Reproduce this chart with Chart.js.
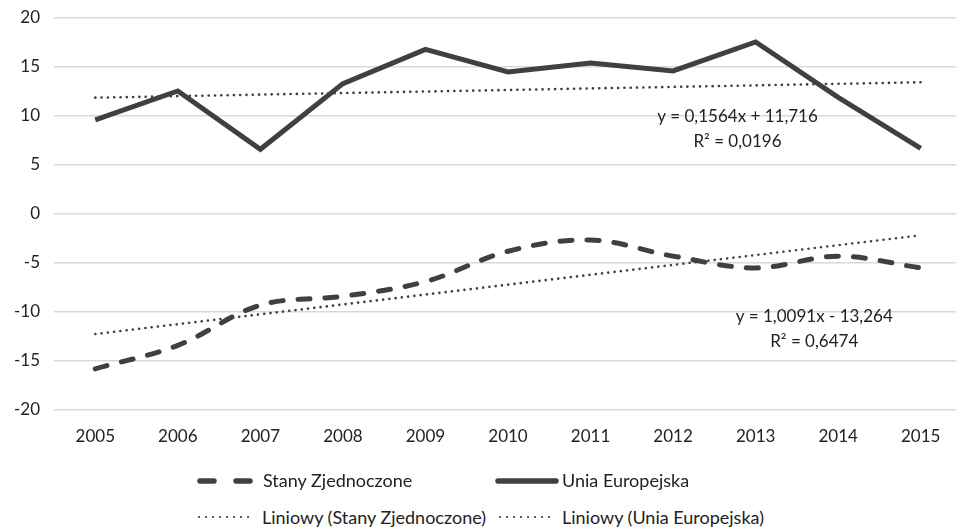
<!DOCTYPE html>
<html>
<head>
<meta charset="utf-8">
<script src="https://cdn.jsdelivr.net/npm/chart.js@4.4.1/dist/chart.umd.min.js"></script>
<style>
  html,body{margin:0;padding:0;background:#fff;overflow:hidden;width:956px;height:527px;}
  #wrap{position:relative;width:962px;height:527px;}
  #c{position:absolute;left:0;top:0;}
  .leg{position:absolute;font-family:Lato,"Open Sans",sans-serif;font-size:18px;color:#222;white-space:nowrap;line-height:22px;}
  .sw{position:absolute;}
</style>
</head>
<body>
<div id="wrap">
  <canvas id="c" width="962" height="476"></canvas>
  <svg class="sw" style="left:193px;top:474px" width="65" height="14"><line x1="7" y1="7" x2="58" y2="7" stroke="#404040" stroke-width="5.5" stroke-linecap="round" stroke-dasharray="14,22"/></svg>
  <div class="leg" style="left:263px;top:469px">Stany Zjednoczone</div>
  <svg class="sw" style="left:492px;top:474px" width="70" height="14"><line x1="6" y1="7" x2="64" y2="7" stroke="#404040" stroke-width="5.5" stroke-linecap="round"/></svg>
  <div class="leg" style="left:562px;top:469px">Unia Europejska</div>
  <svg class="sw" style="left:196px;top:510px" width="62" height="14"><line x1="3" y1="7" x2="59" y2="7" stroke="#404040" stroke-width="2.2" stroke-linecap="round" stroke-dasharray="0.1,6.9"/></svg>
  <div class="leg" style="left:262px;top:506px">Liniowy (Stany Zjednoczone)</div>
  <svg class="sw" style="left:497px;top:510px" width="62" height="14"><line x1="3" y1="7" x2="59" y2="7" stroke="#404040" stroke-width="2.2" stroke-linecap="round" stroke-dasharray="0.1,6.9"/></svg>
  <div class="leg" style="left:562px;top:506px">Liniowy (Unia Europejska)</div>
</div>
<script>
const years = ["2005","2006","2007","2008","2009","2010","2011","2012","2013","2014","2015"];
const usValues = [-15.8,-13.4,-9.3,-8.4,-6.9,-3.8,-2.65,-4.3,-5.5,-4.3,-5.5];
const euValues = [9.6,12.55,6.6,13.3,16.8,14.5,15.4,14.6,17.55,11.9,6.7];
// trend line endpoints (first and last year)
const usTrend = [-12.25,null,null,null,null,null,null,null,null,null,-2.17];
const euTrend = [11.87,null,null,null,null,null,null,null,null,null,13.44];
const yTicks = [20,15,10,5,0,-5,-10,-15,-20];
const labelsText = [
  {lines:["y = 0,1564x + 11,716","R² = 0,0196"], x:7.78, y:[9.9,7.35]},
  {lines:["y = 1,0091x - 13,264","R² = 0,6474"], x:8.71, y:[-10.5,-13.0]}
];

const FONT = 'Lato, "Open Sans", sans-serif';
const COL = '#404040';

const eqPlugin = {
  id:'eq',
  afterDatasetsDraw(chart){
    const ctx = chart.ctx, xs = chart.scales.x, ys = chart.scales.y;
    ctx.save();
    ctx.font = '17px ' + FONT;
    ctx.fillStyle = '#222';
    ctx.textAlign = 'center';
    ctx.textBaseline = 'middle';
    labelsText.forEach(l=>{
      const px = xs.getPixelForValue(l.x);
      l.lines.forEach((t,i)=>ctx.fillText(t, px, ys.getPixelForValue(l.y[i])));
    });
    ctx.restore();
  }
};

new Chart(document.getElementById('c'), {
  type:'line',
  data:{
    labels: years,
    datasets:[
      {label:'Stany Zjednoczone', data:usValues, borderColor:COL, borderWidth:5, borderDash:[12,15], borderCapStyle:'round', tension:0.35, pointRadius:0, fill:false},
      {label:'Unia Europejska', data:euValues, borderColor:COL, borderWidth:5, borderJoinStyle:'miter', pointRadius:0, tension:0, fill:false},
      {label:'Liniowy (Stany Zjednoczone)', data:usTrend, borderColor:COL, borderWidth:2.6, borderDash:[0.1,6.2], borderCapStyle:'round', spanGaps:true, pointRadius:0, fill:false},
      {label:'Liniowy (Unia Europejska)', data:euTrend, borderColor:COL, borderWidth:2.6, borderDash:[0.1,6.2], borderCapStyle:'round', spanGaps:true, pointRadius:0, fill:false}
    ]
  },
  options:{
    responsive:false,
    animation:false,
    layout:{padding:{top:18,bottom:0,left:0,right:0}},
    plugins:{legend:{display:false},tooltip:{enabled:false}},
    scales:{
      x:{
        offset:true,
        grid:{display:false},
        border:{display:false},
        ticks:{font:{family:FONT,size:17},color:'#222',padding:8,maxRotation:0},
        afterFit(axis){ axis.height = 66; axis.paddingLeft = 0; axis.paddingRight = 0; }
      },
      y:{
        min:-20,max:20,
        afterBuildTicks(axis){ axis.ticks = yTicks.map(v=>({value:v})); },
        grid:{color:'#d9d9d9',lineWidth:1.5,drawTicks:false},
        border:{display:false},
        ticks:{font:{family:FONT,size:17},color:'#222',padding:14},
        afterFit(axis){ axis.paddingTop = 0; axis.paddingBottom = 0; axis.width = 54; }
      }
    }
  },
  plugins:[eqPlugin]
});
</script>
</body>
</html>
